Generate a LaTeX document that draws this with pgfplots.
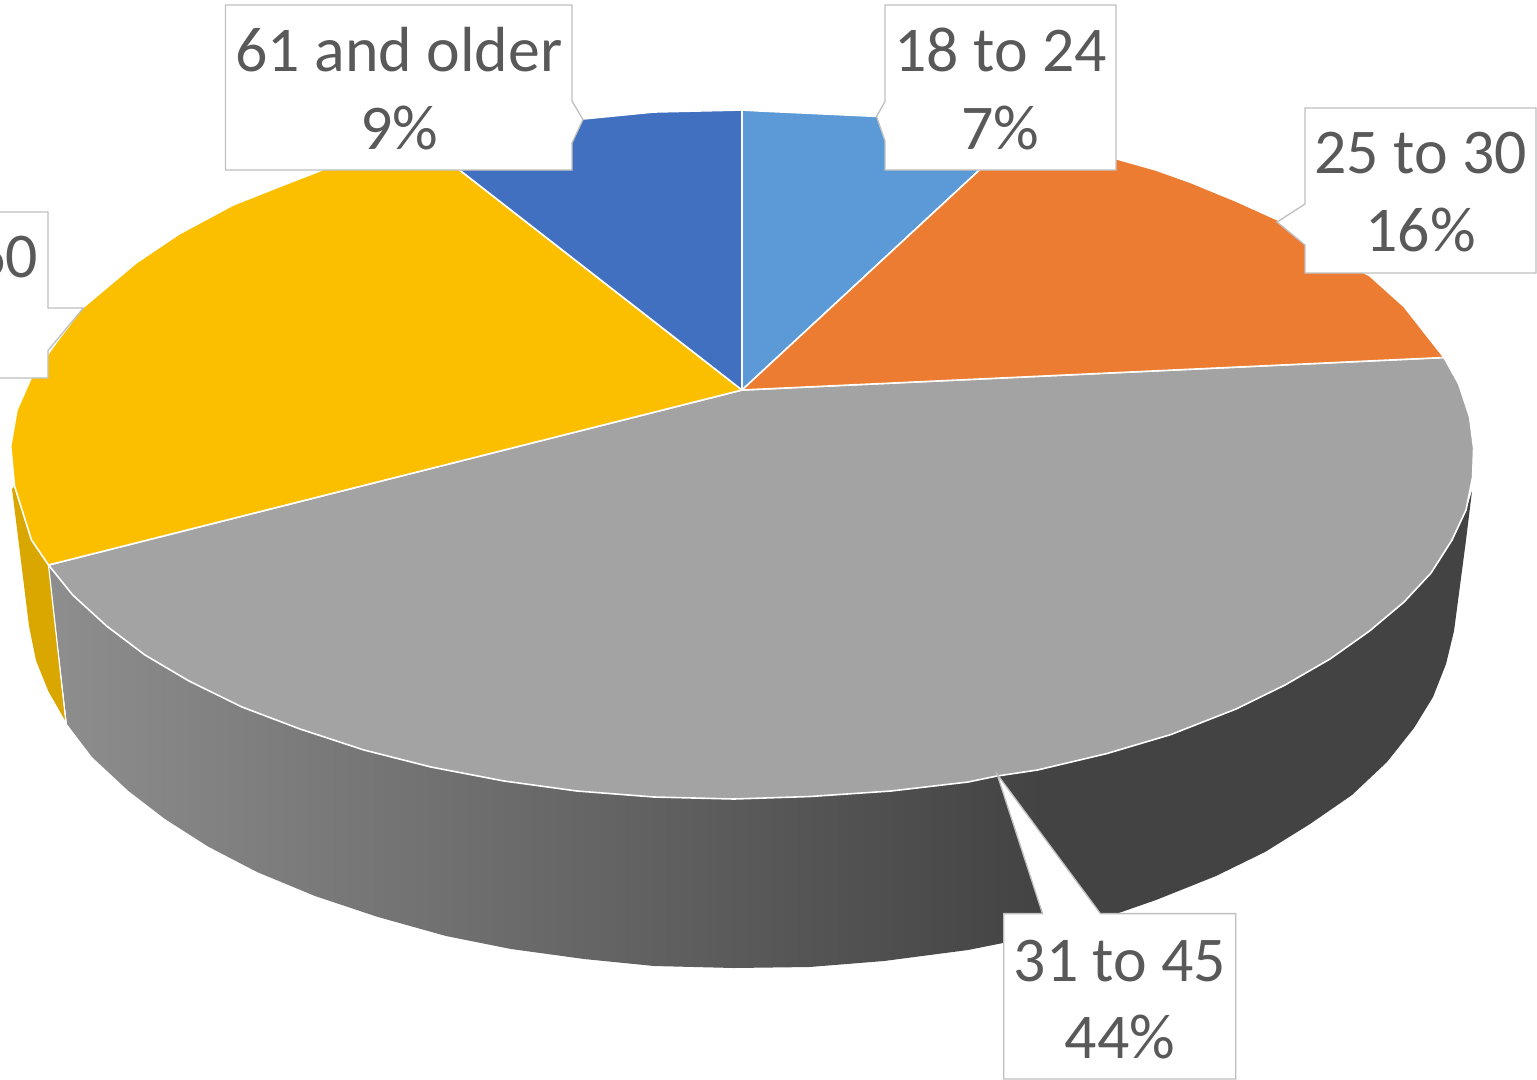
\documentclass[border=0pt]{standalone}
\usepackage{pgfplots}
\pgfplotsset{compat=1.18}
\usepackage{fontspec}
\setmainfont{Carlito}
\definecolor{sliceA}{HTML}{5B9AD6}
\definecolor{sliceB}{HTML}{EB7C31}
\definecolor{sliceC}{HTML}{A3A3A3}
\definecolor{sliceD}{HTML}{FBBF00}
\definecolor{sliceE}{HTML}{4270C0}
\definecolor{sideD}{HTML}{DAA600}
\definecolor{sideL}{HTML}{8E8E8E}
\definecolor{sideR}{HTML}{434343}
\definecolor{lbl}{HTML}{595959}
\definecolor{boxl}{HTML}{BFBFBF}
\newcommand{\lab}[4][base]{\node[anchor=#1,inner sep=0pt,text=lbl,font=\fontsize{64}{64}\selectfont] at (axis cs:#2,#3) {#4};}
\begin{document}
\begin{tikzpicture}
\path[use as bounding box] (0,0) rectangle (1537bp,1080bp);
\begin{axis}[
  at={(0,0)},anchor=south west,
  scale only axis,width=1537bp,height=1080bp,
  xmin=0,xmax=1537,ymin=0,ymax=1080,y dir=reverse,
  hide axis,
  top/.style={fill=#1,draw=white,line width=1.6bp,line join=round},
  callout/.style={fill=white,draw=boxl,line width=1.3bp,line join=miter},
]
% sides
\addplot[fill=sideD,draw=none] coordinates {(12,489)(18.4,540)(29,626)(36,660.5)(48.5,691.5)(65.4,721)(48.5,565)(31.5,540)(14.5,486)} --cycle;
\addplot[fill=sideR,draw=none] coordinates {(1472,491)(1466,540)(1454,631)(1446,664)(1433,697)(1414,728)(1387,762)(1352,795)(1310,824)(1265,852)(1216,876)(1156,900)(1117,913.6)(1050,931)(990,945)(990,776)(1037.5,770)(1107,753.5)(1171,734.5)(1236,709)(1285,685)(1330,659)(1369.5,631)(1404,602)(1431,573)(1452,540)(1466,510)} --cycle;
\addplot[left color=sideL,right color=sideR,draw=none] coordinates {(48.5,565)(72.7,595)(106.6,626)(145,655)(189,681)(242,707)(300,729)(364,750)(431,767)(504,781)(577,791)(654,797)(734,799)(810,796.5)(891,791)(968,782)(997,776)(1043,768)(1043,933)(1003,943)(968,950)(884,961)(809.5,967)(734,968)(654,966)(584,959)(511,949)(446,936)(378,917)(315,896)(257,872)(208,846.5)(165,819)(128.5,791)(92,757)(67,724)} --cycle;
\addplot[draw=white,line width=1.2bp] coordinates {(48.5,565)(66,723)};
% top faces
\addplot[top=sliceC] coordinates {(742,390)(1444,357.5)(1458.7,384)(1469.6,417)(1473.6,448)(1472.6,477)(1466,510)(1452,540)(1431,573)(1404,602)(1369.5,631)(1330,659)(1285,685)(1236,709)(1171,734.5)(1107,753.5)(1037.5,770)(997,776)(968,782)(891,791)(810,796.5)(734,799)(654,797)(577,791)(504,781)(431,767)(364,750)(300,729)(242,707)(189,681)(145,655)(106.6,626)(72.7,595)(48.5,565)} --cycle;
\addplot[top=sliceD] coordinates {(742,390)(48.5,565)(31.5,540)(14.5,486)(10.7,446)(17,410)(31.5,377)(58,340)(82.4,308)(136,263)(179,234)(233,205)(286,184)(330,167)(400,150)(430,147)} --cycle;
\addplot[top=sliceE] coordinates {(742,390)(430,147)(500,130)(583,119)(654,112)(742,110)} --cycle;
\addplot[top=sliceA] coordinates {(742,390)(742,110)(760,111)(876.5,116.4)(940,125)(1015,137)} --cycle;
\addplot[top=sliceB] coordinates {(742,390)(1015,137)(1082,150)(1117,159)(1156,170)(1191,182.5)(1236,201)(1278,220)(1305,244)(1369.5,275.5)(1404,306.5)(1444,357.5)} --cycle;
% callouts
\addplot[callout] coordinates {(885,5)(1116,5)(1116,170)(885,170)(885,141)(876.5,116.5)(885,101.5)} --cycle;
\addplot[callout] coordinates {(1305,108)(1536,108)(1536,273)(1305,273)(1305,245)(1277,222)(1305,204)} --cycle;
\addplot[callout] coordinates {(225.4,5)(572,5)(572,101)(583,119.5)(572,143)(572,170)(225.4,170)} --cycle;
\addplot[callout] coordinates {(-190,212)(48,212)(48,308)(83.4,308)(48,350.5)(48,378)(-190,378)} --cycle;
\addplot[callout] coordinates {(1003.8,913.6)(1042.5,913.6)(997,774)(1100.4,913.6)(1235.7,913.6)(1235.7,1079)(1003.8,1079)} --cycle;
% texts
\lab{1000.5}{71}{18 to 24}
\lab{1000.5}{149}{7\%}
\lab{1420.5}{173}{25 to 30}
\lab{1420.5}{251}{16\%}
\lab{1120}{981}{31 to 45}
\lab{1120}{1058}{44\%}
\lab{399}{71}{61 and older}
\lab{399}{149}{9\%}
\lab[base east]{38}{277}{46 to 60}
\end{axis}
\end{tikzpicture}
\end{document}
